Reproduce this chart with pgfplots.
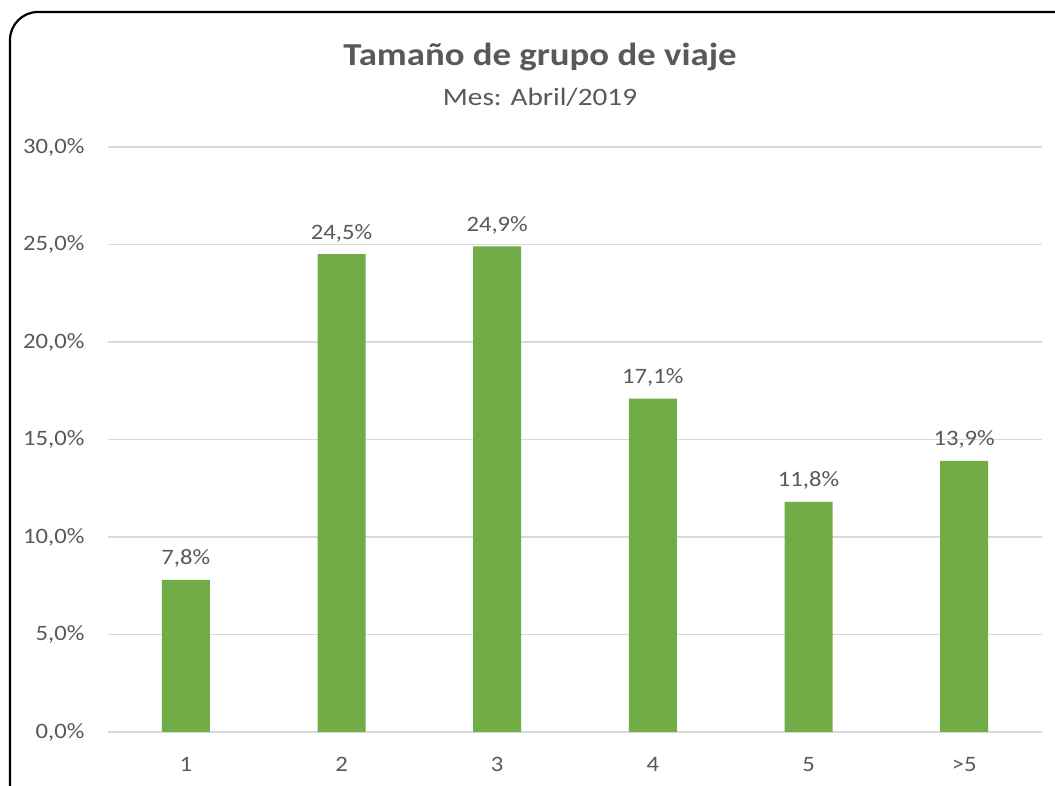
\documentclass[border=0pt]{standalone}
\usepackage{fontspec}
\setmainfont[FakeStretch=1.12]{Carlito}
\newfontfamily\titlefont[FakeStretch=1.15]{Carlito}
\newfontfamily\subfont[FakeStretch=1.17]{Carlito}
\usepackage{pgfplots}
\pgfplotsset{compat=1.18}
\definecolor{txt}{HTML}{595959}
\definecolor{gridc}{HTML}{D9D9D9}
\definecolor{barc}{HTML}{70AD47}
\begin{document}
\begin{tikzpicture}[x=1pt,y=1pt]
\useasboundingbox (0,0) rectangle (1055,786);
\clip (0,0) rectangle (1055,786);
\fill[white] (0,0) rectangle (1055,786);
\draw[line width=2.2pt, rounded corners=28pt] (10,774) rectangle (1100,-40);
\node[text=txt, font=\titlefont\fontsize{32}{38}\selectfont\bfseries] at (540,729) {Tamaño de grupo de viaje};
\node[text=txt, font=\subfont\fontsize{25}{30}\selectfont] at (540,689) {Mes: Abril/2019};
\begin{axis}[
  at={(108pt,54pt)}, anchor=south west,
  scale only axis, width=934pt, height=585pt,
  xmin=-0.5, xmax=5.5, ymin=0, ymax=30,
  ytick={0,5,...,30},
  xtick=data, xticklabels={1,2,3,4,5,>5},
  ymajorgrids, grid style={gridc, line width=1.5pt},
  axis line style={draw=none},
  major tick length=0pt,
  tick label style={text=txt, font=\fontsize{22}{26}\selectfont},
  /pgf/number format/assume math mode=true,
  yticklabel={\pgfmathprintnumber[fixed,fixed zerofill,precision=1,use comma]{\tick}\%},
  yticklabel style={anchor=east, xshift=-20pt},
  xticklabel style={yshift=-22pt},
  ybar, bar width=48pt,
  nodes near coords={\pgfmathprintnumber[fixed,fixed zerofill,precision=1,use comma,assume math mode=true]{\pgfplotspointmeta}\%},
  every node near coord/.append style={text=txt, font=\fontsize{22}{26}\selectfont, inner sep=0pt, yshift=12pt},
  clip=false,
]
\addplot[fill=barc, draw=none] coordinates {(0,7.8) (1,24.5) (2,24.9) (3,17.1) (4,11.8) (5,13.9)};
\end{axis}
\end{tikzpicture}
\end{document}
